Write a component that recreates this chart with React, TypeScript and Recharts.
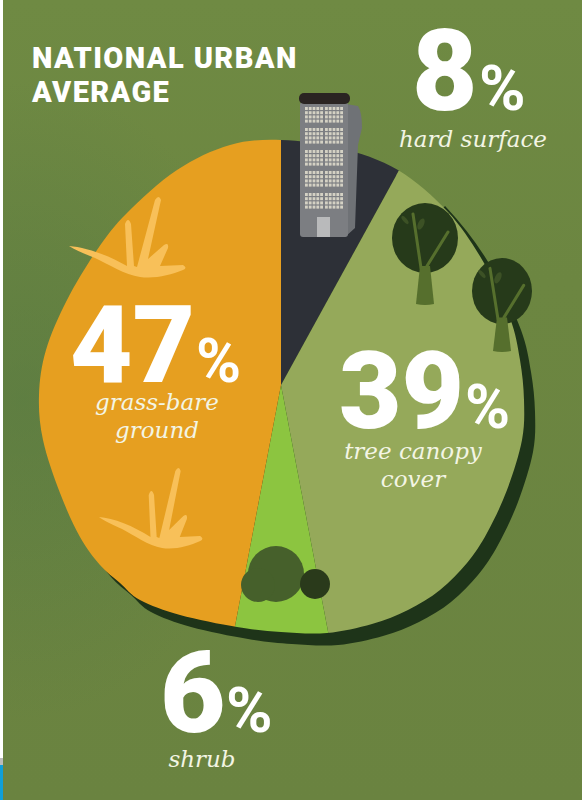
import React from 'react';
import { PieChart, Pie, Cell } from 'recharts';

// Share of urban land cover, clockwise from twelve o'clock
const coverNames = ['hard surface', 'tree canopy cover', 'shrub', 'grass-bare ground'];
const coverShares = [8, 39, 6, 47];
const coverColors = ['#2d3037', '#95a95a', '#8cc540', '#e69f20'];

const pieData = coverNames.map((name, i) => ({ name, value: coverShares[i] }));

// Text placement per slice, same order as coverNames
const labelLayout = [
  { numX: 412, numY: 110, numSize: 113, pctX: 479, pctY: 110, pctSize: 63, lines: ['hard surface'], lineX: 473, lineY: 147 },
  { numX: 339, numY: 428, numSize: 108, pctX: 465, pctY: 428, pctSize: 61, lines: ['tree canopy', 'cover'], lineX: 413, lineY: 459 },
  { numX: 160, numY: 732, numSize: 113, pctX: 226, pctY: 732, pctSize: 63, lines: ['shrub'], lineX: 202, lineY: 767 },
  { numX: 70, numY: 382, numSize: 108, pctX: 196, pctY: 382, pctSize: 61, lines: ['grass-bare', 'ground'], lineX: 157, lineY: 410 },
];

// Outline of the uneven pie, walked anticlockwise from the top
const outline = [
  [281, 140], [230, 145], [177, 170], [127, 213], [97, 250], [67, 300], [46, 350], [39, 395], [43, 440],
  [60, 493], [80, 537], [100, 565], [120, 583], [140, 600], [180, 615], [237, 627], [281, 632], [327, 633],
  [372, 624], [408, 610], [440, 590], [467, 563], [487, 533], [507, 490], [522, 440], [524, 400], [520, 360],
  [510, 318], [484, 263], [448, 212], [398, 170], [340, 148],
];

function smoothClosedPath(pts: number[][]) {
  const n = pts.length;
  let d = `M${pts[0][0]} ${pts[0][1]}`;
  for (let i = 0; i < n; i++) {
    const p0 = pts[(i - 1 + n) % n];
    const p1 = pts[i];
    const p2 = pts[(i + 1) % n];
    const p3 = pts[(i + 2) % n];
    const c1x = p1[0] + (p2[0] - p0[0]) / 6;
    const c1y = p1[1] + (p2[1] - p0[1]) / 6;
    const c2x = p2[0] - (p3[0] - p1[0]) / 6;
    const c2y = p2[1] - (p3[1] - p1[1]) / 6;
    d += ` C${c1x} ${c1y} ${c2x} ${c2y} ${p2[0]} ${p2[1]}`;
  }
  return d + ' Z';
}

const blob = smoothClosedPath(outline);

const labelFont = 'Roboto, sans-serif';
const captionFont = '"DejaVu Serif", serif';

function renderCoverLabel(props: any) {
  const at = labelLayout[props.index];
  return (
    <g key={props.name}>
      <text x={at.numX} y={at.numY} fill="#fff" fontFamily={labelFont} fontWeight={900} fontSize={at.numSize}>
        {props.value}
      </text>
      <text x={at.pctX} y={at.pctY} fill="#fff" fontFamily={labelFont} fontWeight={700} fontSize={at.pctSize}>
        %
      </text>
      {at.lines.map((line, i) => (
        <text
          key={line}
          x={at.lineX}
          y={at.lineY + i * 28}
          fill="#f3f5e4"
          textAnchor="middle"
          fontFamily={captionFont}
          fontStyle="italic"
          fontSize={23}
        >
          {line}
        </text>
      ))}
    </g>
  );
}

function Tower() {
  const blocks = [107, 128, 150, 171, 193];
  const cols = [305, 325];
  return (
    <g>
      <path d="M346 104 L358 106 Q362 112 362 128 L358 145 L355 228 L345 237 Z" fill="#6f7276" />
      <rect x={300} y={102} width={48} height={135} rx={3} fill="#7c7e82" />
      {blocks.map((by) =>
        cols.map((cx) =>
          [0, 1, 2, 3].map((row) =>
            [0, 1, 2, 3, 4].map((col) => (
              <rect key={`${by}-${cx}-${row}-${col}`} x={cx + col * 3.8} y={by + row * 4.2} width={2.8} height={3} fill="#d4d1c4" />
            )),
          ),
        ),
      )}
      <rect x={317} y={217} width={13} height={20} fill="#b9babb" />
      <rect x={299} y={93} width={51} height={11} rx={5} fill="#2a2422" />
    </g>
  );
}

function Tree({ x, top, rx, ry, foot }: { x: number; top: number; rx: number; ry: number; foot: number }) {
  const cy = top + ry;
  const k = ry / 35;
  return (
    <g>
      <ellipse cx={x} cy={cy} rx={rx} ry={ry} fill="#263a1a" />
      <path d={`M${x - 9} ${foot} L${x - 5} ${cy + 28 * k} L${x + 5} ${cy + 28 * k} L${x + 9} ${foot} Q${x} ${foot + 2} ${x - 9} ${foot} Z`} fill="#566f2d" />
      <path
        d={`M${x - 4} ${cy + 30 * k} L${x - 12} ${cy - 24 * k} M${x + 2} ${cy + 28 * k} L${x + 23 * k} ${cy - 6 * k}`}
        stroke="#566f2d"
        strokeWidth={3}
        strokeLinecap="round"
        fill="none"
      />
      <ellipse cx={x - 4} cy={cy - 14 * k} rx={3} ry={6} transform={`rotate(25 ${x - 4} ${cy - 14 * k})`} fill="#3c5125" />
      <ellipse cx={x - 20} cy={cy - 18 * k} rx={2} ry={5} transform={`rotate(-40 ${x - 20} ${cy - 18 * k})`} fill="#3c5125" />
    </g>
  );
}

function Tuft({ transform }: { transform?: string }) {
  return (
    <path
      transform={transform}
      fill="#f8c059"
      d="M69 246 C85 247 108 255 127 266 L125 224 Q128 216 131 224 L134 266 L137 267 L155 200 Q159 194 161 200 L148 259 L164 245 Q169 242 168 248 L160 266 L183 265 Q188 268 183 270 C170 275 155 279 140 277 C125 275 108 264 95 258 C85 254 75 250 69 246 Z"
    />
  );
}

export default function App() {
  return (
    <div style={{ position: 'relative', width: 582, height: 800, background: '#fff', overflow: 'hidden' }}>
      <style>{'body{margin:0}'}</style>
      <div style={{ position: 'absolute', left: 0, top: 758, width: 3, height: 7, background: '#bbbbbb' }} />
      <div style={{ position: 'absolute', left: 0, top: 765, width: 3, height: 35, background: '#0f9fd8' }} />
      <div
        style={{
          position: 'absolute',
          left: 3,
          top: 0,
          width: 579,
          height: 800,
          background:
            'radial-gradient(ellipse 240px 320px at 20px 400px, rgba(84,120,66,0.55), rgba(84,120,66,0)), linear-gradient(180deg, #6f8a43 0%, #6c8641 35%, #6a8340 100%)',
        }}
      />
      <div style={{ position: 'absolute', left: 0, top: 0 }}>
        <PieChart width={582} height={800} margin={{ top: 0, right: 0, bottom: 0, left: 0 }}>
          <defs>
            <clipPath id="coverBlob" clipPathUnits="userSpaceOnUse">
              <path d={blob} />
            </clipPath>
          </defs>
          <path d={blob} transform="translate(11 12)" fill="#1e3419" />
          <path d="M444 207 C460 224 476 244 490 268" stroke="#1e3419" strokeWidth={3} fill="none" />
          <Pie
            data={pieData}
            dataKey="value"
            nameKey="name"
            cx={281}
            cy={385}
            innerRadius={0}
            outerRadius={430}
            startAngle={90}
            endAngle={-270}
            stroke="none"
            label={renderCoverLabel}
            labelLine={false}
            isAnimationActive={false}
          >
            {pieData.map((d, i) => (
              <Cell key={d.name} fill={coverColors[i]} style={{ clipPath: 'url(#coverBlob)' }} />
            ))}
          </Pie>
        </PieChart>
      </div>
      {/* Illustrations sit on their own layer above the slices */}
      <svg width={582} height={800} style={{ position: 'absolute', left: 0, top: 0, pointerEvents: 'none' }}>
        <Tower />
        <Tree x={425} top={203} rx={33} ry={35} foot={304} />
        <Tree x={502} top={258} rx={30} ry={33} foot={351} />
        <Tuft />
        <Tuft transform="matrix(0.888 0 0 1 37.7 271)" />
        <circle cx={276} cy={574} r={28} fill="#46602b" />
        <circle cx={258} cy={585} r={17} fill="#46602b" />
        <circle cx={315} cy={584} r={15} fill="#2a3a1b" />
        <text x={32} y={68} fill="#fff" fontFamily={labelFont} fontWeight={900} fontSize={29} letterSpacing={1.4}>
          NATIONAL URBAN
        </text>
        <text x={32} y={102} fill="#fff" fontFamily={labelFont} fontWeight={900} fontSize={29} letterSpacing={1.4}>
          AVERAGE
        </text>
      </svg>
    </div>
  );
}
